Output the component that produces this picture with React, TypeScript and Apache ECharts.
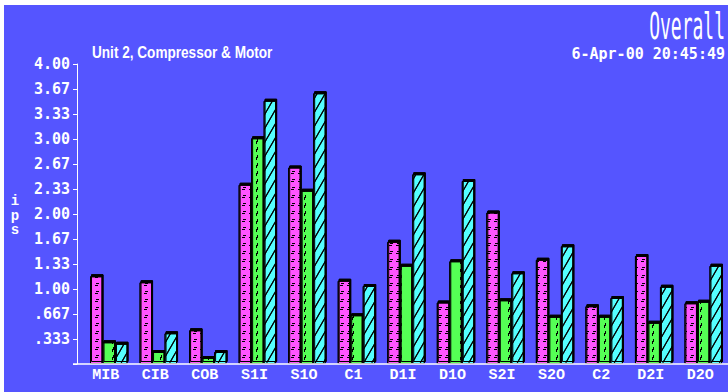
import React, { useEffect, useRef } from "react";
import * as echarts from "echarts";

// Measurement points along the compressor / motor train
const categories = [
  "MIB", "CIB", "COB", "S1I", "S1O", "C1", "D1I",
  "D1O", "S2I", "S2O", "C2", "D2I", "D2O",
];

// Overall vibration velocity (ips) per direction
const horizontal = [1.17, 1.09, 0.45, 2.39, 2.62, 1.11, 1.63, 0.82, 2.02, 1.39, 0.77, 1.44, 0.81];
const vertical = [0.29, 0.16, 0.08, 3.01, 2.31, 0.65, 1.31, 1.37, 0.85, 0.63, 0.63, 0.55, 0.83];
const axial = [0.27, 0.41, 0.16, 3.51, 3.61, 1.04, 2.53, 2.44, 1.21, 1.57, 0.88, 1.03, 1.31];

// Y tick labels, one per third of an ips
const yTickLabels = ["", ".333", ".667", "1.00", "1.33", "1.67", "2.00", "2.33", "2.67", "3.00", "3.33", "3.67", "4.00"];

// Vertical axis name, drawn one letter per line
const yAxisLetters = ["i", "p", "s"];

const BG = "#5555FF";
const WHITE = "#FFFFFF";
const MONO = "'DejaVu Sans Mono', monospace";
const SERIF_MONO = "'Liberation Mono', 'Courier New', monospace";

export default function App() {
  const ref = useRef<HTMLDivElement>(null);

  useEffect(() => {
    if (!ref.current) return;
    const chart = echarts.init(ref.current, undefined, { renderer: "svg" });

    const barStyle = (color: string, decal: any) => ({
      color,
      borderColor: "#000000",
      borderWidth: 1,
      shadowColor: "#000000",
      shadowBlur: 0,
      shadowOffsetX: 1,
      shadowOffsetY: -2,
      decal,
    });

    chart.setOption({
      animation: false,
      backgroundColor: BG,
      grid: { left: 80, right: -4, top: 59, bottom: 28, containLabel: false },
      xAxis: {
        type: "category",
        data: categories,
        axisLine: { show: false },
        axisTick: { show: false },
        axisLabel: {
          color: WHITE,
          fontFamily: SERIF_MONO,
          fontWeight: "bold",
          fontSize: 15,
          margin: 4,
          padding: [0, 6, 0, 0],
        },
        splitLine: { show: false },
      },
      yAxis: {
        type: "value",
        min: 0,
        max: 4,
        interval: 1 / 3,
        offset: 7,
        axisLine: { show: true, lineStyle: { color: WHITE, width: 1 } },
        axisTick: { show: true, length: 4, lineStyle: { color: WHITE } },
        splitLine: { show: false },
        axisLabel: {
          color: WHITE,
          fontFamily: MONO,
          fontWeight: "bold",
          fontSize: 15,
          margin: 7,
          formatter: (v: number) => yTickLabels[Math.round(v * 3)] ?? "",
        },
      },
      series: [
        {
          name: "Horizontal",
          type: "bar",
          data: horizontal,
          barWidth: 12.5,
          barGap: "0%",
          itemStyle: barStyle("#FF55FF", {
            symbol: "rect",
            symbolSize: 1,
            color: "#000000",
            dashArrayX: [3, 4],
            dashArrayY: [1, 7],
          }),
        },
        {
          name: "Vertical",
          type: "bar",
          data: vertical,
          barWidth: 12.5,
          barGap: "0%",
          itemStyle: barStyle("#55FF55", {
            symbol: "rect",
            symbolSize: 1,
            color: "#000000",
            dashArrayX: [1, 11],
            dashArrayY: [3, 5],
          }),
        },
        {
          name: "Axial",
          type: "bar",
          data: axial,
          barWidth: 12.5,
          barGap: "0%",
          itemStyle: barStyle("#55FFFF", {
            symbol: "rect",
            symbolSize: 1,
            color: "#000000",
            dashArrayX: [1, 0],
            dashArrayY: [1, 6],
            rotation: -Math.PI / 3,
          }),
        },
      ],
      graphic: [
        {
          type: "line",
          shape: { x1: 69, y1: 359, x2: 724, y2: 359 },
          style: { stroke: WHITE, lineWidth: 1.5 },
          z: 10,
        },
        {
          type: "text",
          x: 88,
          y: 47,
          scaleX: 0.8,
          style: {
            text: "Unit 2, Compressor & Motor",
            fill: WHITE,
            font: "bold 17px 'Liberation Sans', Arial, sans-serif",
            textAlign: "left",
            textVerticalAlign: "middle",
          },
        },
        {
          type: "text",
          x: 721,
          y: 21,
          scaleY: 2.1,
          style: {
            text: "Overall",
            fill: WHITE,
            font: `18px ${MONO}`,
            textAlign: "right",
            textVerticalAlign: "middle",
          },
        },
        {
          type: "text",
          x: 721,
          y: 49,
          style: {
            text: "6-Apr-00 20:45:49",
            fill: WHITE,
            font: `bold 15px ${MONO}`,
            textAlign: "right",
            textVerticalAlign: "middle",
          },
        },
        ...yAxisLetters.map((ch, i) => ({
          type: "text",
          x: 11,
          y: 196 + i * 14.5,
          style: {
            text: ch,
            fill: WHITE,
            font: `bold 14px ${SERIF_MONO}`,
            textAlign: "center",
            textVerticalAlign: "middle",
          },
        })),
      ],
    });

    return () => chart.dispose();
  }, []);

  return (
    <div
      style={{
        position: "fixed",
        left: 0,
        top: 0,
        width: 728,
        height: 392,
        background: "#FFFFFF",
        overflow: "hidden",
      }}
    >
      <div
        ref={ref}
        style={{ position: "absolute", left: 4, top: 5, width: 724, height: 387 }}
      />
    </div>
  );
}
